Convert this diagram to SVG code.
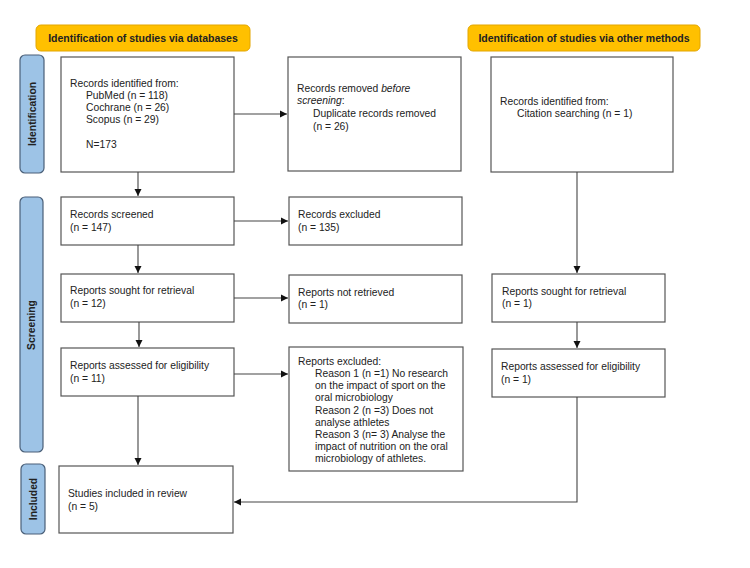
<svg xmlns="http://www.w3.org/2000/svg" width="750" height="568" viewBox="0 0 750 568">
<defs>
<marker id="ah" markerWidth="8" markerHeight="8" refX="7" refY="4" orient="auto" markerUnits="userSpaceOnUse">
<path d="M0,0.5 L7,4 L0,7.5 Z" fill="#111"/>
</marker>
<style>
.hdr{fill:#FFC000;stroke:#E3A600;stroke-width:1}
.side{fill:#9DC3E6;stroke:#4A5F78;stroke-width:1.2}
.box{fill:#fff;stroke:#555;stroke-width:1.2}
.t{font-family:"Liberation Sans",Arial,sans-serif;font-size:10.3px;fill:#222}
.h{font-family:"Liberation Sans",Arial,sans-serif;font-size:10.5px;font-weight:bold;fill:#222;text-anchor:middle}
.s{font-family:"Liberation Sans",Arial,sans-serif;font-size:10.3px;font-weight:bold;fill:#222;text-anchor:middle}
.c{fill:none;stroke:#444;stroke-width:1.1}
</style>
</defs>
<rect width="750" height="568" fill="#fff"/>

<g id="header-databases"><rect class="hdr" x="36" y="25" width="214" height="26" rx="5"/><text class="h" x="143" y="41.5">Identification of studies via databases</text></g>
<g id="header-other"><rect class="hdr" x="468" y="25" width="232" height="26" rx="5"/><text class="h" x="584" y="41.5">Identification of studies via other methods</text></g>

<g id="side-identification"><rect class="side" x="20" y="55" width="24" height="118" rx="5"/><text class="s" transform="translate(35.5,114) rotate(-90)">Identification</text></g>
<g id="side-screening"><rect class="side" x="20" y="197" width="23" height="255" rx="5"/><text class="s" transform="translate(35,325) rotate(-90)">Screening</text></g>
<g id="side-included"><rect class="side" x="21" y="464" width="24" height="70" rx="5"/><text class="s" transform="translate(36.5,499) rotate(-90)">Included</text></g>

<g id="records-identified"><rect class="box" x="61" y="57" width="173" height="115"/>
<text class="t" x="70" y="87">Records identified from:</text>
<text class="t" x="86" y="99">PubMed (n = 118)</text>
<text class="t" x="86" y="111">Cochrane (n = 26)</text>
<text class="t" x="86" y="123">Scopus (n = 29)</text>
<text class="t" x="86" y="148">N=173</text></g>

<g id="records-removed"><rect class="box" x="288" y="57" width="173" height="114"/>
<text class="t" x="297" y="92">Records removed <tspan font-style="italic">before</tspan></text>
<text class="t" x="297" y="104"><tspan font-style="italic">screening</tspan>:</text>
<text class="t" x="313" y="117">Duplicate records removed</text>
<text class="t" x="313" y="130">(n = 26)</text></g>

<g id="other-identified"><rect class="box" x="491" y="57" width="182" height="115"/>
<text class="t" x="500" y="105">Records identified from:</text>
<text class="t" x="517" y="117">Citation searching (n = 1)</text></g>

<g id="records-screened"><rect class="box" x="61" y="197" width="173" height="48"/>
<text class="t" x="70" y="218">Records screened</text>
<text class="t" x="70" y="231">(n = 147)</text></g>

<g id="records-excluded"><rect class="box" x="289" y="197" width="173" height="48"/>
<text class="t" x="298" y="218">Records excluded</text>
<text class="t" x="298" y="231">(n = 135)</text></g>

<g id="reports-sought"><rect class="box" x="61" y="274" width="173" height="48"/>
<text class="t" x="70" y="294">Reports sought for retrieval</text>
<text class="t" x="70" y="307">(n = 12)</text></g>

<g id="reports-not-retrieved"><rect class="box" x="289" y="275" width="173" height="48"/>
<text class="t" x="298" y="296">Reports not retrieved</text>
<text class="t" x="298" y="308">(n = 1)</text></g>

<g id="other-sought"><rect class="box" x="492" y="274" width="173" height="48"/>
<text class="t" x="502" y="295">Reports sought for retrieval</text>
<text class="t" x="502" y="307">(n = 1)</text></g>

<g id="reports-assessed"><rect class="box" x="61" y="348" width="173" height="48"/>
<text class="t" x="70" y="369">Reports assessed for eligibility</text>
<text class="t" x="70" y="382">(n = 11)</text></g>

<g id="reports-excluded"><rect class="box" x="289" y="347" width="174" height="124"/>
<text class="t" x="298" y="365">Reports excluded:</text>
<text class="t" x="315" y="377">Reason 1 (n =1) No research</text>
<text class="t" x="315" y="389">on the impact of sport on the</text>
<text class="t" x="315" y="401">oral microbiology</text>
<text class="t" x="315" y="414">Reason 2 (n =3) Does not</text>
<text class="t" x="315" y="426">analyse athletes</text>
<text class="t" x="315" y="438">Reason 3 (n= 3) Analyse the</text>
<text class="t" x="315" y="450">impact of nutrition on the oral</text>
<text class="t" x="315" y="462">microbiology of athletes.</text></g>

<g id="other-assessed"><rect class="box" x="492" y="349" width="173" height="48"/>
<text class="t" x="501" y="370">Reports assessed for eligibility</text>
<text class="t" x="501" y="383">(n = 1)</text></g>

<g id="studies-included"><rect class="box" x="59" y="466" width="174" height="67"/>
<text class="t" x="68" y="497">Studies included in review</text>
<text class="t" x="68" y="510">(n = 5)</text></g>

<g id="connectors">
<line class="c" x1="234" y1="114" x2="287" y2="114" marker-end="url(#ah)"/>
<line class="c" x1="138" y1="172" x2="138" y2="196" marker-end="url(#ah)"/>
<line class="c" x1="234" y1="221" x2="288" y2="221" marker-end="url(#ah)"/>
<line class="c" x1="138" y1="245" x2="138" y2="273" marker-end="url(#ah)"/>
<line class="c" x1="234" y1="298" x2="288" y2="298" marker-end="url(#ah)"/>
<line class="c" x1="139" y1="322" x2="139" y2="347" marker-end="url(#ah)"/>
<line class="c" x1="234" y1="374" x2="288" y2="374" marker-end="url(#ah)"/>
<line class="c" x1="138" y1="396" x2="138" y2="465" marker-end="url(#ah)"/>
<line class="c" x1="577" y1="172" x2="577" y2="273" marker-end="url(#ah)"/>
<line class="c" x1="577" y1="322" x2="577" y2="348" marker-end="url(#ah)"/>
<polyline class="c" points="577,397 577,502 234,502" marker-end="url(#ah)"/>
</g>
</svg>
